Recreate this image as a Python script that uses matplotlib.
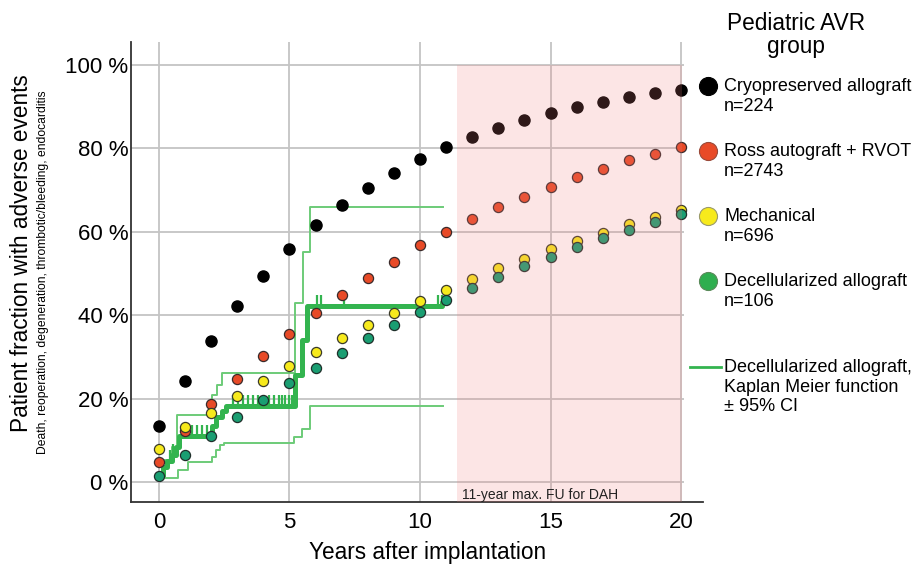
import numpy as np
import matplotlib.pyplot as plt
from matplotlib.lines import Line2D

plt.rcParams['font.family'] = ['Liberation Sans', 'DejaVu Sans']

# cumulative fraction with adverse events (%) per year
years = np.arange(0, 21)
cryo = [13.5, 24.3, 33.9, 42.2, 49.5, 55.8, 61.5, 66.3, 70.6, 74.2, 77.5,
        80.3, 82.7, 84.9, 86.8, 88.5, 89.9, 91.2, 92.2, 93.3, 94.1]
ross = [4.9, 12.3, 18.6, 24.7, 30.3, 35.6, 40.4, 44.8, 49.0, 52.8, 56.8,
        60.0, 63.0, 65.9, 68.4, 70.8, 73.1, 75.1, 77.1, 78.7, 80.3]
mech = [7.9, 13.2, 16.5, 20.5, 24.2, 27.8, 31.2, 34.5, 37.6, 40.6, 43.5,
        46.1, 48.7, 51.2, 53.5, 55.8, 57.9, 59.8, 61.8, 63.6, 65.3]
decel = [1.5, 6.5, 11.0, 15.6, 19.7, 23.7, 27.4, 31.0, 34.5, 37.7, 40.8,
         43.6, 46.5, 49.2, 51.7, 54.0, 56.4, 58.4, 60.4, 62.4, 64.2]

# Kaplan Meier (decellularized allograft) with 95% CI, step points
km_t = [0, 0.15, 0.3, 0.5, 0.65, 0.78, 2.02, 2.2, 2.4, 2.55, 5.2, 5.47, 5.66, 10.85, 10.95]
km_y = [1.7, 3.5, 5.0, 6.5, 8.5, 11.0, 13.5, 15.5, 17.0, 18.2, 25.7, 34.0, 42.2, 43.2, 43.2]
up_t = [0, 0.1, 0.49, 0.68, 2.02, 2.21, 2.4, 5.21, 5.5, 5.8, 10.9]
up_y = [4.0, 5.3, 8.5, 16.1, 20.9, 23.3, 26.1, 42.8, 55.2, 66.0, 66.0]
lo_t = [0, 0.25, 0.74, 1.12, 2.02, 2.2, 2.35, 2.5, 5.18, 5.47, 5.79, 10.9]
lo_y = [1.7, 0.9, 2.9, 4.9, 6.1, 7.7, 8.9, 9.3, 10.8, 12.7, 18.1, 18.1]
censor_t = [0.42, 0.55, 1.25, 1.44, 1.64, 1.83, 2.85, 3.04, 3.23, 3.43, 3.62,
            3.81, 4.0, 4.2, 4.39, 4.58, 4.71, 4.84, 4.97, 5.1, 6.04, 6.2,
            7.09, 10.7, 10.83]

groups = ['Cryopreserved allograft\nn=224', 'Ross autograft + RVOT\nn=2743',
          'Mechanical\nn=696', 'Decellularized allograft\nn=106']
km_label = 'Decellularized allograft,\nKaplan Meier function\n\u00b1 95% CI'

c_black = '#000000'
c_red = '#e84a27'
c_yellow = '#f7ea1c'
c_teal = '#1a9e72'
c_green = '#2fae4f'
c_km = '#33b44f'
c_ci = '#6ccb78'
grid_c = '#c4c4c4'

fig = plt.figure(figsize=(9.14, 5.74), dpi=100)
ax = fig.add_axes([131/914, 1-502/574, (703-131)/914, (502-42)/574])
xlo, xhi = -1.07, 20.84
ylo, yhi = -4.8, 105.5
ax.set_xlim(xlo, xhi)
ax.set_ylim(ylo, yhi)

# grid
yt = [0, 20, 40, 60, 80, 100]
xt = [0, 5, 10, 15, 20]
ax.hlines(yt, xlo, 20.1, color=grid_c, lw=1.3, zorder=0)
ax.vlines(xt, ylo, yhi, color=grid_c, lw=1.3, zorder=0)

# Kaplan Meier with CI
ax.plot(up_t, up_y, drawstyle='steps-post', color=c_ci, lw=1.4, zorder=2)
ax.plot(lo_t, lo_y, drawstyle='steps-post', color=c_ci, lw=1.4, zorder=2)
ax.plot(km_t, km_y, drawstyle='steps-post', color=c_km, lw=3.6, zorder=3)
idx = np.searchsorted(km_t, censor_t, side='right') - 1
cy = np.array(km_y)[idx]
ax.vlines(censor_t, cy, cy + 2.6, color=c_km, lw=1.6, zorder=3)

# group dots
ax.plot(years, cryo, 'o', ms=8, color=c_black, mec=c_black, zorder=5)
ax.plot(years, ross, 'o', ms=7.3, color=c_red, mec='#3a2a2a', mew=0.9, zorder=5)
ax.plot(years, mech, 'o', ms=7.3, color=c_yellow, mec='#3a3a2a', mew=0.9, zorder=5)
ax.plot(years, decel, 'o', ms=7.3, color=c_teal, mec='#1f2f2a', mew=0.9, zorder=5)

# beyond DAH follow-up
ax.fill_between([11.42, 20.05], ylo, 100, color='#f08080', alpha=0.2, lw=0, zorder=6)
ax.text(11.6, -3.1, '11-year max. FU for DAH', fontsize=10, va='center',
        color='#222222', zorder=7)

for s in ['top', 'right']:
    ax.spines[s].set_visible(False)
for s in ['left', 'bottom']:
    ax.spines[s].set_color('#333333')
    ax.spines[s].set_linewidth(1.3)

ax.set_yticks(yt, [f'{v} %' for v in yt])
ax.set_xticks(xt)
ax.tick_params(axis='y', length=0, labelsize=16, pad=2)
ax.tick_params(axis='x', length=0, labelsize=16, pad=7)

fig.text(22/914, 1-253/574, 'Patient fraction with adverse events', rotation=90,
         ha='center', va='center', fontsize=16.3)
fig.text(43/914, 1-272/574,
         'Death, reoperation, degeneration, thrombotic/bleeding, endocarditis',
         rotation=90, ha='center', va='center', fontsize=8.7)
fig.text(428/914, 1-553/574, 'Years after implantation', ha='center',
         va='center', fontsize=16.3)

# legend, placed by hand
fig.text(796/914, 1-35/574, 'Pediatric AVR\ngroup', ha='center', va='center',
         fontsize=16.3, linespacing=1.05)
leg_y = [86, 151, 216, 281]
leg_fc = [c_black, c_red, c_yellow, c_green]
leg_ec = [c_black, '#9a4a3a', '#9a9a6a', '#5a8a5a']
for yy, lab, fc, ec in zip(leg_y, groups, leg_fc, leg_ec):
    fig.add_artist(Line2D([708/914], [1-yy/574], marker='o', ms=13, color=fc,
                          mec=ec, mew=0.8, transform=fig.transFigure))
    fig.text(724/914, 1-(yy-8)/574, lab, ha='left', va='top', fontsize=13,
             linespacing=1.2)
fig.add_artist(Line2D([690/914, 721/914], [1-367/574]*2, color=c_km, lw=2,
                      transform=fig.transFigure))
fig.text(724/914, 1-(367-8)/574, km_label, ha='left', va='top', fontsize=13,
         linespacing=1.2)

fig.savefig('out.png', dpi=100)
